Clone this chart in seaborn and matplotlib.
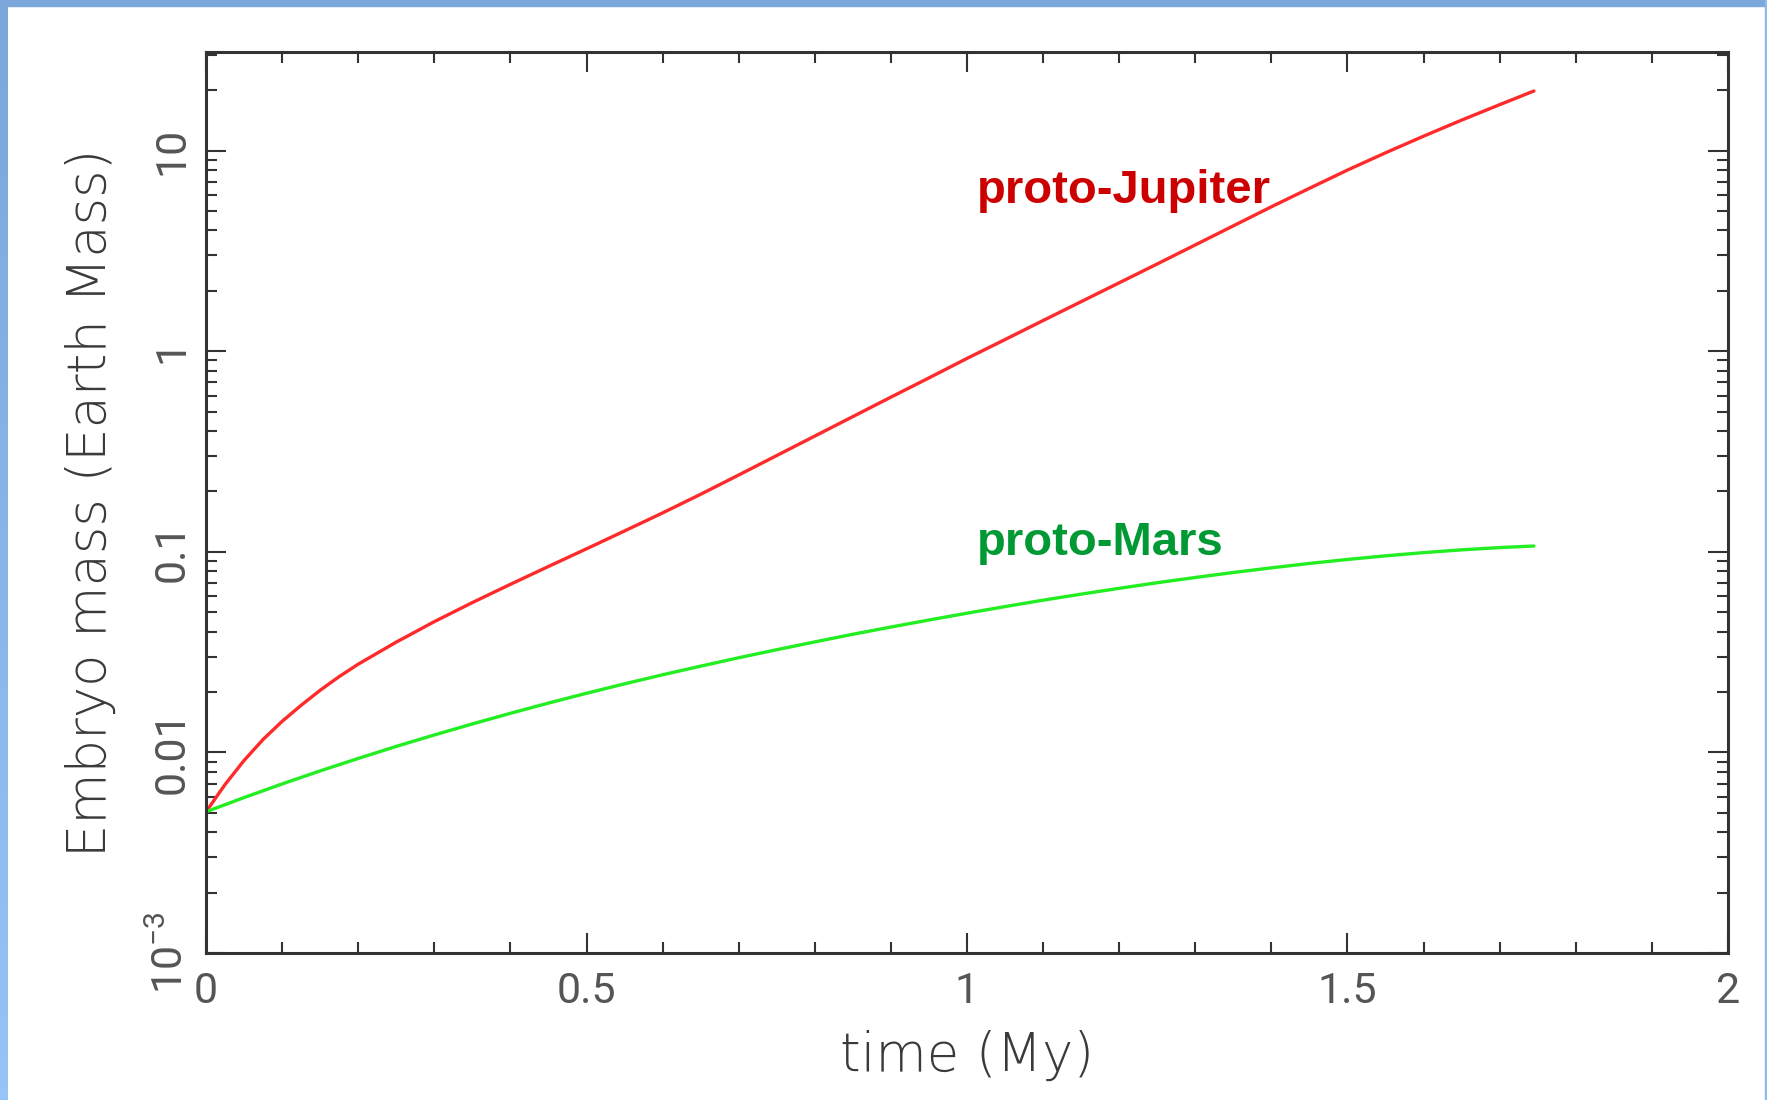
import numpy as np
import pandas as pd
import matplotlib
matplotlib.use('Agg')
import matplotlib.pyplot as plt
import seaborn as sns
from matplotlib.patches import Rectangle
from matplotlib.ticker import MultipleLocator, LogLocator, NullFormatter, FixedLocator

# Data -----------------------------------------------------------------------

jupiter_t = [0.0, 0.025, 0.05, 0.075, 0.1, 0.125, 0.15, 0.175, 0.2, 0.25, 0.3,
             0.35, 0.4, 0.45, 0.5, 0.55, 0.6, 0.65, 0.7, 0.75, 0.8, 0.85, 0.9,
             0.95, 1.0, 1.05, 1.1, 1.15, 1.2, 1.25, 1.3, 1.35, 1.4, 1.45, 1.5,
             1.55, 1.6, 1.65, 1.7, 1.745]
jupiter_mass = [0.00506, 0.00692, 0.00912, 0.01161, 0.01429, 0.01718, 0.02042,
                0.02388, 0.02754, 0.03548, 0.04487, 0.05585, 0.06887, 0.08453,
                0.1035, 0.1271, 0.1563, 0.1936, 0.2415, 0.302, 0.3776, 0.4721,
                0.5902, 0.7362, 0.9204, 1.143, 1.422, 1.766, 2.193, 2.723,
                3.388, 4.217, 5.248, 6.486, 7.998, 9.75, 11.8, 14.19, 16.94,
                19.82]

mars_t = [0.0, 0.05, 0.1, 0.15, 0.2, 0.25, 0.3, 0.35, 0.4, 0.45, 0.5, 0.55,
          0.6, 0.65, 0.7, 0.75, 0.8, 0.85, 0.9, 0.95, 1.0, 1.05, 1.1, 1.15,
          1.2, 1.25, 1.3, 1.35, 1.4, 1.45, 1.5, 1.55, 1.6, 1.65, 1.7, 1.745]
mars_mass = [0.00506, 0.005957, 0.006966, 0.008091, 0.009333, 0.01072,
             0.01222, 0.01387, 0.01567, 0.01762, 0.01972, 0.02198, 0.02438,
             0.02692, 0.02965, 0.03251, 0.03556, 0.03882, 0.04217, 0.04571,
             0.04943, 0.05333, 0.05741, 0.06152, 0.06577, 0.07015, 0.07447,
             0.07889, 0.08318, 0.0875, 0.09162, 0.0955, 0.09908, 0.1023,
             0.105, 0.1069]

y_ticks = [1e-3, 0.01, 0.1, 1, 10]
y_ticklabels = ['$10^{-3}$', '0.01', '0.1', '1', '10']
x_ticks = [0, 0.5, 1, 1.5, 2]
x_ticklabels = ['0', '0.5', '1', '1.5', '2']

df = pd.concat([
    pd.DataFrame({'time': jupiter_t, 'mass': jupiter_mass, 'body': 'proto-Jupiter'}),
    pd.DataFrame({'time': mars_t, 'mass': mars_mass, 'body': 'proto-Mars'}),
])

# Style -----------------------------------------------------------------------

sns.set_theme(style='ticks')
plt.rcParams['font.family'] = ['Roboto', 'DejaVu Sans']
plt.rcParams['mathtext.default'] = 'regular'

fig = plt.figure(figsize=(17.67, 11), dpi=100)
fig.patch.set_facecolor('white')
ax = fig.add_axes([0.1166, 0.1336, 0.8613, 0.8191])

sns.lineplot(data=df, x='time', y='mass', hue='body', sort=False,
             palette={'proto-Jupiter': '#ff2a2a', 'proto-Mars': '#22ee22'},
             linewidth=2.4, legend=False, ax=ax)

ax.set_yscale('log')
ax.set_xlim(0, 2)
ax.set_ylim(1e-3, 31)

ax.xaxis.set_major_locator(FixedLocator(x_ticks))
ax.xaxis.set_minor_locator(MultipleLocator(0.1))
ax.set_xticklabels(x_ticklabels)
ax.yaxis.set_major_locator(FixedLocator(y_ticks))
ax.yaxis.set_minor_locator(LogLocator(base=10, subs=np.arange(2, 10)))
ax.yaxis.set_minor_formatter(NullFormatter())
ax.set_yticklabels(y_ticklabels, rotation=90, va='center')

ax.tick_params(which='both', direction='in', top=True, right=True,
               color='#333333', labelcolor='#555555', labelsize=31)
ax.tick_params(which='major', length=14.5, width=1.5)
ax.tick_params(which='minor', length=8, width=1.5)
ax.tick_params(axis='x', pad=13)
ax.tick_params(axis='y', pad=10)

for s in ax.spines.values():
    s.set_linewidth(2.2)
    s.set_color('#333333')

label_font = dict(fontsize=38, color='#3a3a3a', family='DejaVu Sans',
                  fontweight='light')
ax.set_xlabel('time (My)', **label_font)
ax.set_ylabel('Embryo mass (Earth Mass)', **label_font)
ax.xaxis.set_label_coords(0.5, -0.085)
ax.yaxis.set_label_coords(-0.058, 0.5)

ax.text(1.013, 5.45, 'proto-Jupiter', color='#cc0000', fontsize=34,
        fontweight='bold', family='Liberation Sans', va='baseline')
ax.text(1.013, 0.096, 'proto-Mars', color='#009933', fontsize=34,
        fontweight='bold', family='Liberation Sans', va='baseline')

# Blue slide frame ------------------------------------------------------------
fig.patches.append(Rectangle((0, 1 - 6 / 1100), 1, 6 / 1100,
                             transform=fig.transFigure, color='#7ba7da', zorder=5))
fig.patches.append(Rectangle((1 - 2 / 1767, 0), 2 / 1767, 1,
                             transform=fig.transFigure, color='#8db9ec', zorder=5))
band = fig.add_axes([0, 0, 7 / 1767, 1])
band.imshow(np.linspace(0, 1, 100).reshape(-1, 1), aspect='auto',
            cmap=matplotlib.colors.LinearSegmentedColormap.from_list(
                'frame', ['#7ba7da', '#95c4f8']))
band.set_axis_off()

fig.savefig('out.png', dpi=100)
